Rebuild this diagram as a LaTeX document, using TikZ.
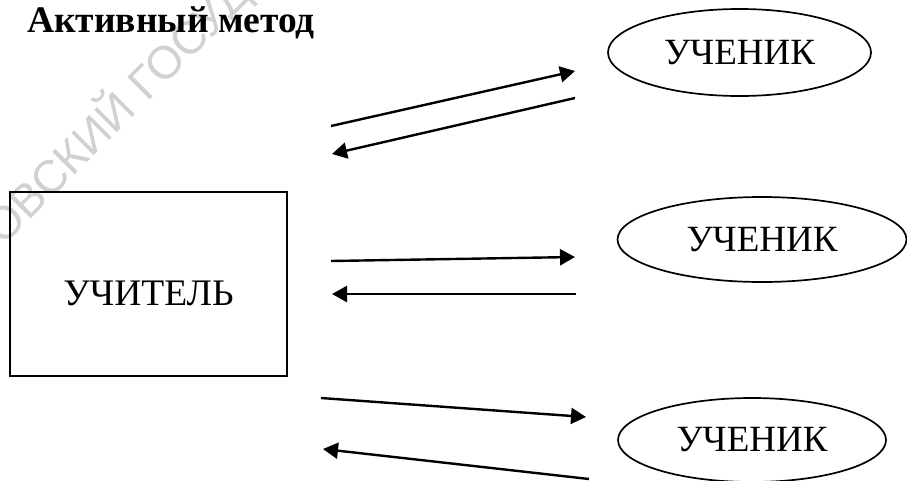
\documentclass[tikz,border=0pt]{standalone}
\usepackage{fontspec}
\setmainfont{Liberation Serif}
\newfontfamily\wmfont{Liberation Sans}
\usetikzlibrary{shapes.geometric,arrows.meta}
\definecolor{wmgray}{gray}{0.82}
\tikzset{
  pupil/.style={draw=black,line width=1.7pt,ellipse,inner sep=0pt,font=\fontsize{37}{37}\selectfont,text=black,anchor=center},
  teacher/.style={draw=black,line width=1.8pt,rectangle,inner sep=0pt,anchor=center},
  teachertext/.style={font=\fontsize{37.5}{37.5}\selectfont,inner sep=0pt,anchor=center},
  flow/.style={draw=black,line width=2.4pt,-{Triangle[length=15pt,width=16pt]}},
  heading/.style={font=\fontsize{37.5}{37.5}\selectfont\bfseries,anchor=base west,inner sep=0pt},
  watermark/.style={font=\wmfont\fontsize{46}{46}\selectfont,text=wmgray,rotate=45,anchor=base west,inner sep=0pt}
}
\begin{document}
\begin{tikzpicture}[x=1pt,y=-1pt]
\useasboundingbox (0,0) rectangle (907,480);
\clip (0,0) rectangle (907,480);
\fill[white] (0,0) rectangle (907,480);
\node[watermark] (wm) at (3,247) {ОВСКИЙ ГОСУДА};
\node[heading] (title) at (27,32) {Активный метод};
\node[teacher,minimum width=277pt,minimum height=184pt] (t) at (148.5,284) {};
\node[teachertext] (tl) at (148.5,293) {УЧИТЕЛЬ};
\node[pupil,minimum width=263pt,minimum height=87pt] (p1) at (739.5,52.5) {УЧЕНИК};
\node[pupil,minimum width=289pt,minimum height=85pt] (p2) at (762,239.5) {УЧЕНИК};
\node[pupil,minimum width=268pt,minimum height=84pt] (p3) at (752,440) {УЧЕНИК};
\coordinate (a1s) at (331,126); \coordinate (a1e) at (575,71);
\coordinate (a2s) at (575,98);  \coordinate (a2e) at (332,154);
\coordinate (a3s) at (331,261); \coordinate (a3e) at (575,257);
\coordinate (a4s) at (576,294); \coordinate (a4e) at (332,294);
\coordinate (a5s) at (321,398); \coordinate (a5e) at (586,417);
\coordinate (a6s) at (589,479); \coordinate (a6e) at (323,449);
\draw[flow] (a1s) -- (a1e);
\draw[flow] (a2s) -- (a2e);
\draw[flow] (a3s) -- (a3e);
\draw[flow] (a4s) -- (a4e);
\draw[flow] (a5s) -- (a5e);
\draw[flow] (a6s) -- (a6e);
\end{tikzpicture}
\end{document}
